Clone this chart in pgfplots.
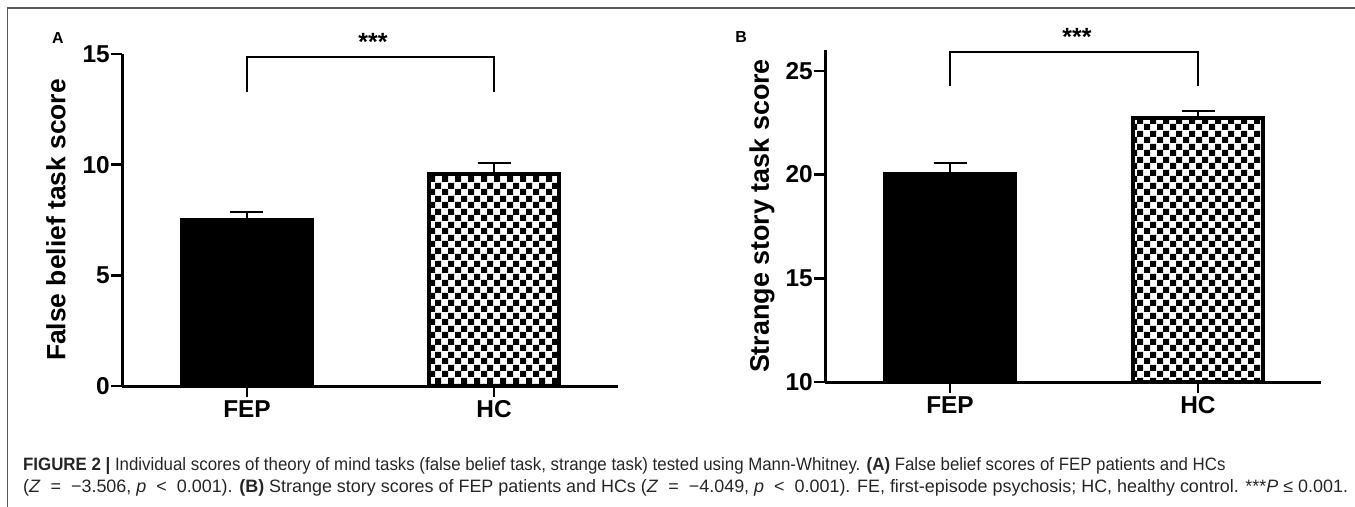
\documentclass[border=0pt]{standalone}
\usepackage{fontspec}
\setmainfont{Liberation Sans}
\newfontfamily\capfont{Liberation Sans}[FakeStretch=0.94]
\usepackage{pgfplots}
\pgfplotsset{compat=1.18}
\usetikzlibrary{patterns}

\pgfdeclarepatternformonly{bigcheck}{\pgfqpoint{0bp}{0bp}}{\pgfqpoint{13bp}{13bp}}{\pgfqpoint{13bp}{13bp}}{%
  \pgfpathrectangle{\pgfqpoint{0bp}{0bp}}{\pgfqpoint{6.5bp}{6.5bp}}%
  \pgfpathrectangle{\pgfqpoint{6.5bp}{6.5bp}}{\pgfqpoint{6.5bp}{6.5bp}}%
  \pgfusepath{fill}%
}
\newcommand\rel[1]{\hspace{0.28em} #1 \hspace{0.28em}}

\pgfplotstableread{
x y err
0 7.50 0.36
}\Afep
\pgfplotstableread{
x y err
1 9.58 0.50
}\Ahc
\pgfplotstableread{
x y err
0 20.02 0.53
}\Bfep
\pgfplotstableread{
x y err
1 22.72 0.34
}\Bhc

\pgfplotsset{
  panel/.style={
    scale only axis,
    width=496bp, height=332bp,
    anchor=south west,
    axis lines=left,
    axis line style={-, line width=3bp},
    tick align=outside,
    major tick length=11bp,
    tick style={line width=2.5bp, black},
    xtick={0,1}, xticklabels={FEP,HC},
    ticklabel style={font=\fontsize{24.5}{24.5}\selectfont\bfseries},
    yticklabel style={inner sep=1bp},
    /pgf/number format/assume math mode=true,
    ybar, bar width=130bp, bar shift=0pt,
    clip=false,
    error bars/y dir=plus, error bars/y explicit,
    error bars/error bar style={line width=2bp, black},
    error bars/error mark options={line width=2bp, black, mark size=16.5bp, rotate=90},
  },
  fepbar/.style={fill=black, draw=black, line width=4bp},
  hcbar/.style={pattern=bigcheck, pattern color=black, draw=black, line width=4bp},
}

\begin{document}
\begin{tikzpicture}
\path[use as bounding box] (0,0) rectangle (1355bp,-507bp);
\draw[line width=1.5bp, black!65] (7.5bp,-507bp) -- (7.5bp,-8bp) -- (1355bp,-8bp);

% Panel A
\begin{axis}[panel,
  at={(122bp,-386bp)},
  xmin=-0.506, xmax=1.502,
  ymin=0, ymax=15, ytick={0,5,10,15},
  ylabel={False belief task score},
  ylabel style={at={(axis description cs:-0.133,0.5)}, rotate=0, anchor=center,
    font=\fontsize{26.5}{26.5}\selectfont\bfseries},
]
\addplot[fepbar] table[x=x, y=y, y error=err] {\Afep};
\addplot[hcbar] table[x=x, y=y, y error=err] {\Ahc};
\draw[line width=1.6bp] (axis cs:0,13.3) -- (axis cs:0,14.86) -- (axis cs:1,14.86) -- (axis cs:1,13.3);
\end{axis}

% Panel B
\begin{axis}[panel,
  at={(825bp,-382bp)},
  xmin=-0.504, xmax=1.496,
  ymin=10, ymax=26, ytick={10,15,20,25},
  ylabel={Strange story task score},
  ylabel style={at={(axis description cs:-0.127,0.5)}, rotate=0, anchor=center,
    font=\fontsize{27}{27}\selectfont\bfseries},
]
\addplot[fepbar] table[x=x, y=y, y error=err] {\Bfep};
\addplot[hcbar] table[x=x, y=y, y error=err] {\Bhc};
\draw[line width=1.6bp] (axis cs:0,24.25) -- (axis cs:0,25.9) -- (axis cs:1,25.9) -- (axis cs:1,24.25);
\end{axis}

% panel letters and significance
\node[font=\fontsize{16}{16}\selectfont\bfseries] at (58bp,-38bp) {A};
\node[font=\fontsize{16}{16}\selectfont\bfseries] at (741bp,-37bp) {B};
\node[font=\fontsize{25}{25}\selectfont\bfseries, anchor=base] at (373bp,-50bp) {***};
\node[font=\fontsize{25}{25}\selectfont\bfseries, anchor=base] at (1077bp,-45bp) {***};

% caption
\node[anchor=base west, inner sep=0, text=black!85, font=\capfont\fontsize{18}{18}\selectfont] at (23bp,-470bp)
  {\textbf{FIGURE 2 |} Individual scores of theory of mind tasks (false belief task, strange task) tested using Mann-Whitney. \textbf{(A)} False belief scores of FEP patients and HCs};
\node[anchor=base west, inner sep=0, text=black!85, font=\fontsize{18}{18}\selectfont] at (23bp,-492bp)
  {(\textit{Z}\rel{=}−3.506, \textit{p}\rel{<}0.001). \textbf{(B)} Strange story scores of FEP patients and HCs (\textit{Z}\rel{=}−4.049, \textit{p}\rel{<}0.001). FE, first-episode psychosis; HC, healthy control. ***\textit{P} ≤ 0.001.};
\end{tikzpicture}
\end{document}
